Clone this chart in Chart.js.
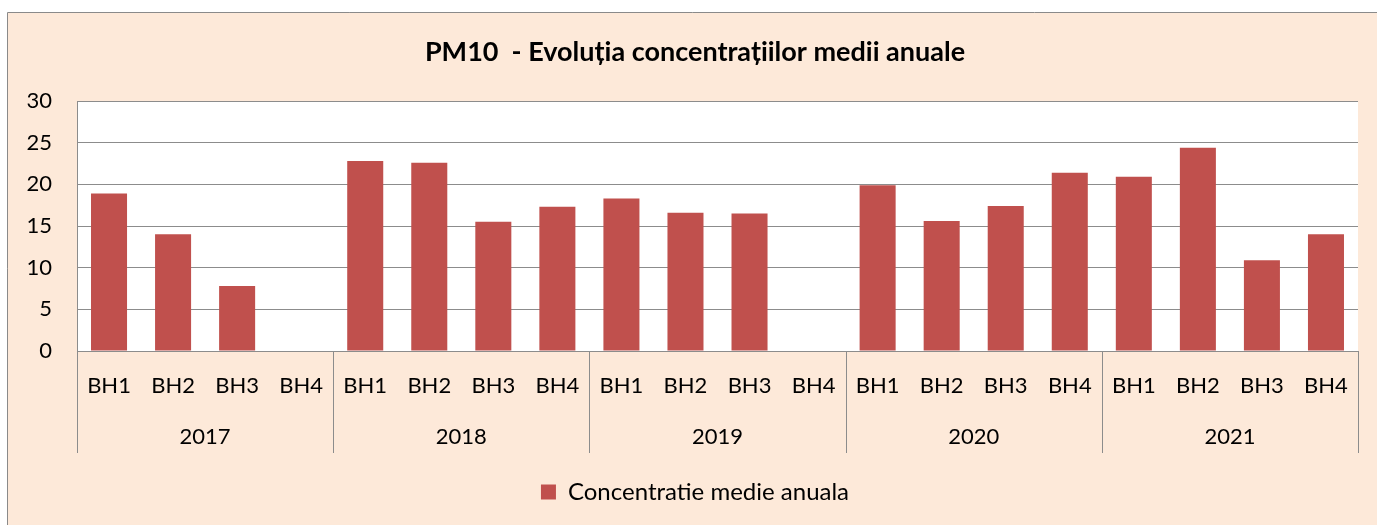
<!DOCTYPE html>
<html>
<head>
<meta charset="utf-8">
<script src="https://cdn.jsdelivr.net/npm/chart.js@4"></script>
<style>
html,body{margin:0;padding:0;background:#fff;}
#wrap{width:1377px;height:525px;}
</style>
</head>
<body>
<div id="wrap"><canvas id="c" width="1377" height="525"></canvas></div>
<script>
const years = ['2017', '2018', '2019', '2020', '2021'];
const stations = ['BH1', 'BH2', 'BH3', 'BH4'];
const values2017 = [18.9, 14.0, 7.8, null];
const values2018 = [22.8, 22.6, 15.5, 17.3];
const values2019 = [18.3, 16.6, 16.5, null];
const values2020 = [19.9, 15.6, 17.4, 21.4];
const values2021 = [20.9, 24.4, 10.9, 14.0];
const yTicks = [0, 5, 10, 15, 20, 25, 30];
const seriesName = 'Concentratie medie anuala';
const titleText = 'PM10  - Evoluția concentrațiilor medii anuale';

const labels = [];
years.forEach(() => stations.forEach(s => labels.push(s)));
const values = [].concat(values2017, values2018, values2019, values2020, values2021);

const FONT = 'Lato, "Open Sans", sans-serif';
const GRID = '#8C8C8C';
const PEACH = '#FDE9D9';
const BAR = '#C0504D';

const decor = {
  id: 'decor',
  beforeDraw(chart) {
    const ctx = chart.ctx;
    const W = chart.width, H = chart.height;
    ctx.save();
    ctx.fillStyle = '#ffffff';
    ctx.fillRect(0, 0, W, H);
    ctx.fillStyle = PEACH;
    ctx.fillRect(7.5, 12.5, W, H);
    ctx.strokeStyle = '#8A8A8A';
    ctx.lineWidth = 1;
    ctx.beginPath();
    ctx.moveTo(7.5, H);
    ctx.lineTo(7.5, 12.5);
    ctx.lineTo(W, 12.5);
    ctx.stroke();
    const a = chart.chartArea;
    ctx.fillStyle = '#ffffff';
    ctx.fillRect(a.left, a.top, a.right - a.left, a.bottom - a.top);
    ctx.restore();
  },
  afterDraw(chart) {
    const ctx = chart.ctx;
    const x = chart.scales.x;
    const a = chart.chartArea;
    const half = (x.getPixelForValue(1) - x.getPixelForValue(0)) / 2;
    ctx.save();
    ctx.strokeStyle = GRID;
    ctx.lineWidth = 1;
    for (let g = 0; g <= years.length; g++) {
      const idx = g * stations.length;
      let px = idx < labels.length ? x.getPixelForValue(idx) - half : x.getPixelForValue(labels.length - 1) + half;
      px = Math.round(px) + 0.5;
      ctx.beginPath();
      ctx.moveTo(px, a.bottom);
      ctx.lineTo(px, 453);
      ctx.stroke();
    }
    ctx.fillStyle = '#000';
    ctx.font = '22px ' + FONT;
    ctx.textAlign = 'center';
    ctx.textBaseline = 'middle';
    years.forEach((y, g) => {
      const i0 = g * stations.length, i1 = i0 + stations.length - 1;
      const cx = (x.getPixelForValue(i0) + x.getPixelForValue(i1)) / 2;
      ctx.fillText(y, cx, 437);
    });
    ctx.restore();
  }
};

new Chart(document.getElementById('c'), {
  type: 'bar',
  data: {
    labels: labels,
    datasets: [{
      label: seriesName,
      data: values,
      backgroundColor: BAR,
      borderWidth: 0,
      categoryPercentage: 1.0,
      barPercentage: 0.5625
    }]
  },
  options: {
    responsive: false,
    animation: false,
    devicePixelRatio: 1,
    layout: { padding: { left: 32, right: 19, top: 0, bottom: 11 } },
    plugins: {
      title: {
        display: true,
        text: titleText,
        color: '#000',
        font: { family: FONT, size: 27, weight: 'bold' },
        padding: { top: 35.8, bottom: 32.8 }
      },
      legend: {
        display: true,
        position: 'bottom',
        labels: {
          color: '#000',
          font: { family: FONT, size: 24 },
          boxWidth: 15,
          boxHeight: 15,
          padding: 10
        }
      },
      tooltip: { enabled: false }
    },
    scales: {
      x: {
        grid: { display: false, drawTicks: false },
        border: { display: true, color: GRID, width: 1 },
        ticks: {
          color: '#000',
          font: { family: FONT, size: 22 },
          padding: 22,
          maxRotation: 0,
          autoSkip: false
        },
        afterFit(scale) { scale.height = 119; }
      },
      y: {
        min: 0,
        max: 30,
        afterBuildTicks(scale) { scale.ticks = yTicks.map(v => ({ value: v })); },
        grid: { color: GRID, drawTicks: false, lineWidth: 1 },
        border: { display: true, color: GRID, width: 1 },
        ticks: {
          color: '#000',
          font: { family: FONT, size: 22 },
          padding: 25
        },
        afterFit(scale) {
          scale.width = 45;
          scale._computeLabelArea = () => undefined;
        }
      }
    }
  },
  plugins: [decor]
});
</script>
</body>
</html>
